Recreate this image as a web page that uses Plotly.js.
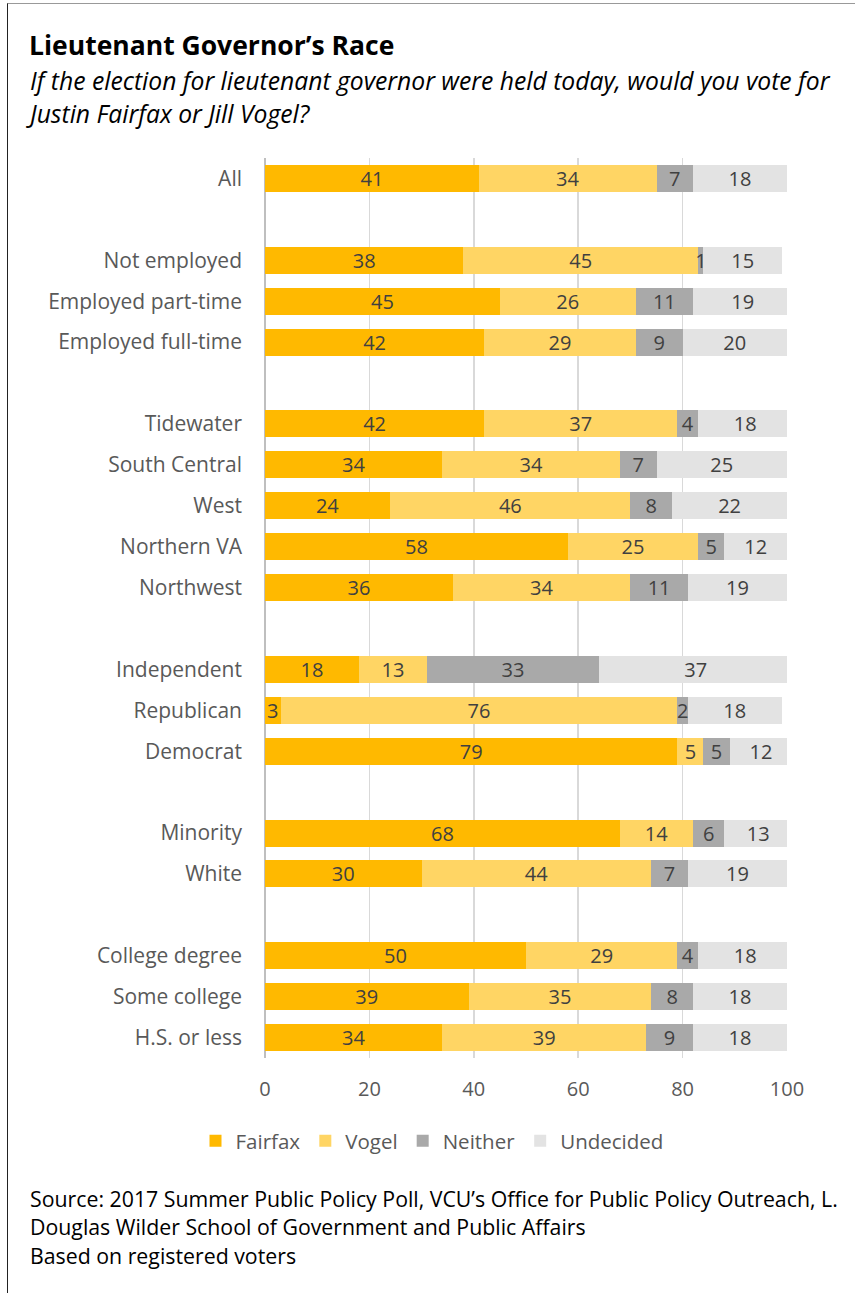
<!DOCTYPE html>
<html>
<head>
<meta charset="utf-8">
<script src="https://cdn.plot.ly/plotly-3.0.1.min.js"></script>
<style>
  html, body { margin: 0; padding: 0; background: #fff; }
  #wrap { position: relative; width: 855px; height: 1293px; overflow: hidden; }
  #frame { position: absolute; left: 7px; top: 3px; width: 900px; height: 1400px;
           border-left: 1.5px solid #222; border-top: 1px solid #999; pointer-events: none; }
  #chart { position: absolute; left: 0; top: 0; width: 855px; height: 1293px; }
</style>
</head>
<body>
<div id="wrap">
  <div id="chart"></div>
  <div id="frame"></div>
</div>
<script>
// ---- data ----
const categories = [
  "All",
  "Not employed", "Employed part-time", "Employed full-time",
  "Tidewater", "South Central", "West", "Northern VA", "Northwest",
  "Independent", "Republican", "Democrat",
  "Minority", "White",
  "College degree", "Some college", "H.S. or less"
];
const groupSizes = [1, 3, 5, 3, 2, 3];
const fairfax   = [41, 38, 45, 42, 42, 34, 24, 58, 36, 18, 3, 79, 68, 30, 50, 39, 34];
const vogel     = [34, 45, 26, 29, 37, 34, 46, 25, 34, 13, 76, 5, 14, 44, 29, 35, 39];
const neither   = [7, 1, 11, 9, 4, 7, 8, 5, 11, 33, 2, 5, 6, 7, 4, 8, 9];
const undecided = [18, 15, 19, 20, 18, 25, 22, 12, 19, 37, 18, 12, 13, 19, 18, 18, 18];
const seriesNames = ["Fairfax", "Vogel", "Neither", "Undecided"];
const seriesColors = ["#FFB900", "#FFD564", "#A9A9A9", "#E3E3E3"];
const xTicks = [0, 20, 40, 60, 80, 100];

// slot positions: one empty slot between groups
const pos = [];
let slot = 0;
groupSizes.forEach((n, gi) => {
  if (gi > 0) slot += 1;
  for (let k = 0; k < n; k++) { pos.push(slot); slot += 1; }
});
const nSlots = slot;

const FONT = "'Open Sans', Lato, sans-serif";
const series = [fairfax, vogel, neither, undecided];
const traces = series.map((vals, si) => ({
  type: "bar",
  orientation: "h",
  name: seriesNames[si],
  x: vals,
  y: pos,
  width: 0.66,
  marker: { color: seriesColors[si], line: { width: 0 } },
  text: vals.map(String),
  textposition: "inside",
  insidetextanchor: "middle",
  constraintext: "none",
  textangle: 0,
  textfont: { family: FONT, size: 20, color: "#404040" },
  hoverinfo: "x+name"
}));

const L = 265, R = 787, T = 158, B = 1058;
const W = 855, H = 1293;
const px2x = p => (p - L) / (R - L);
const py2y = p => (B - p) / (B - T);

const layout = {
  width: W, height: H,
  margin: { l: L, r: W - R, t: T, b: H - B, pad: 0 },
  paper_bgcolor: "#fff",
  plot_bgcolor: "#fff",
  barmode: "stack",
  showlegend: true,
  font: { family: FONT, color: "#595959" },
  title: {
    text: "<b>Lieutenant Governor’s Race</b>",
    xref: "container", yref: "container",
    x: 29 / W, xanchor: "left",
    y: 1 - 46 / H, yanchor: "middle",
    font: { family: FONT, size: 26.5, color: "#000" }
  },
  xaxis: {
    range: [0, 100],
    tickvals: xTicks,
    ticktext: xTicks.map(String),
    showgrid: true, gridcolor: "#D9D9D9", gridwidth: 1.5,
    zeroline: true, zerolinecolor: "#BFBFBF", zerolinewidth: 2,
    showline: false, ticks: "",
    ticklabelstandoff: 17,
    tickfont: { family: FONT, size: 20, color: "#595959" },
    fixedrange: true
  },
  yaxis: {
    range: [nSlots - 0.5, -0.5],
    tickvals: pos,
    ticktext: categories,
    showgrid: false, zeroline: false, showline: false, ticks: "",
    ticklabelstandoff: 22,
    tickfont: { family: FONT, size: 21, color: "#595959" },
    fixedrange: true
  },
  legend: {
    orientation: "h",
    x: px2x(432), xanchor: "center",
    y: py2y(1141), yanchor: "middle",
    font: { family: FONT, size: 20.5, color: "#595959" },
    traceorder: "normal",
    itemwidth: 30
  },
  annotations: [
    { text: "If the election for lieutenant governor were held today, would you vote for", x: px2x(28), y: py2y(81) },
    { text: "Justin Fairfax or Jill Vogel?", x: px2x(24), y: py2y(114) },
    { text: "Source: 2017 Summer Public Policy Poll, VCU’s Office for Public Policy Outreach, L.", x: px2x(28), y: py2y(1198), plain: true },
    { text: "Douglas Wilder School of Government and Public Affairs", x: px2x(28), y: py2y(1226), plain: true },
    { text: "Based on registered voters", x: px2x(28), y: py2y(1255), plain: true }
  ].map(a => ({
    text: a.plain ? a.text : "<i>" + a.text + "</i>",
    xref: "paper", yref: "paper",
    x: a.x, y: a.y, xanchor: "left", yanchor: "middle",
    showarrow: false, align: "left",
    font: { family: FONT, size: a.plain ? 21.3 : 24.7, color: "#000" }
  }))
};

Plotly.newPlot("chart", traces, layout, { displayModeBar: false, staticPlot: true });
</script>
</body>
</html>
